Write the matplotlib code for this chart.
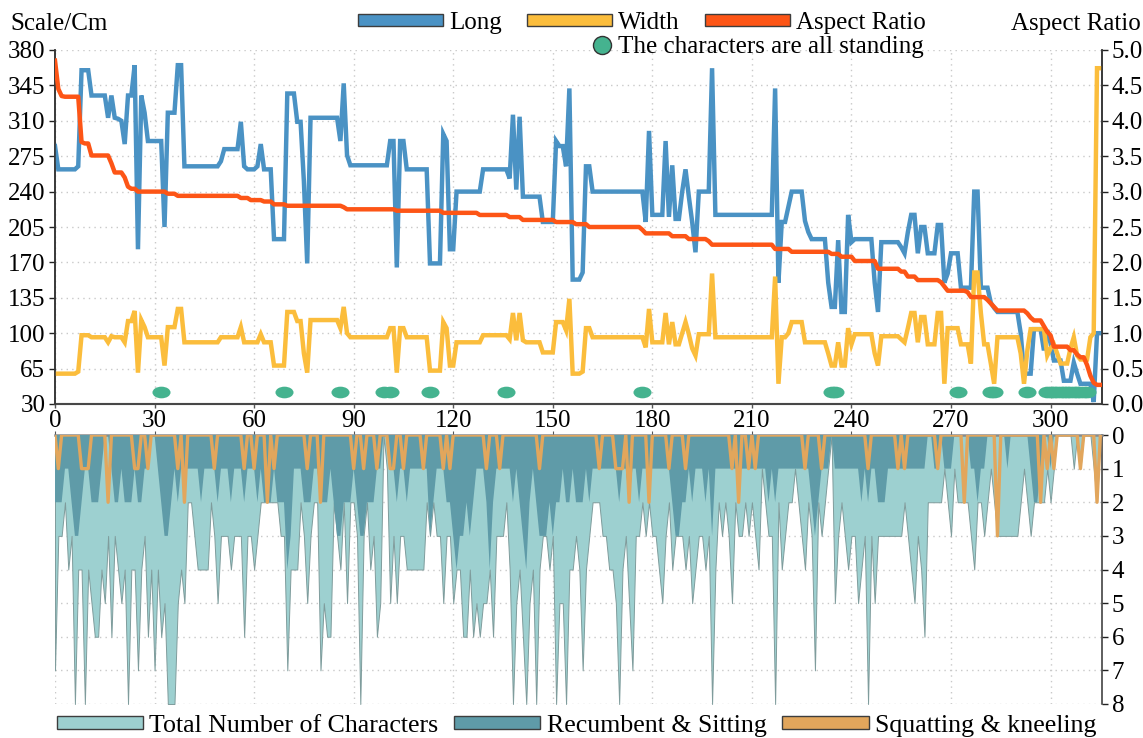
import matplotlib
matplotlib.use('Agg')
import matplotlib.pyplot as plt
from matplotlib.patches import Patch
from matplotlib.lines import Line2D
from matplotlib.path import Path
from matplotlib.transforms import Affine2D

# ---------------- data ----------------
long_cm = [
    285, 262, 262, 262, 262, 262, 262, 265, 360, 360,
    360, 335, 335, 335, 335, 335, 313, 335, 313, 312,
    310, 287, 335, 335, 365, 183, 335, 318, 290, 290,
    290, 290, 290, 205, 318, 318, 318, 365, 365, 265,
    265, 265, 265, 265, 265, 265, 265, 265, 265, 265,
    270, 282, 282, 282, 282, 282, 309, 265, 262, 262,
    262, 265, 287, 262, 262, 262, 193, 193, 193, 193,
    337, 337, 337, 309, 309, 250, 169, 313, 313, 313,
    313, 313, 313, 313, 313, 313, 290, 347, 276, 266,
    266, 266, 266, 266, 266, 266, 266, 266, 266, 266,
    266, 290, 290, 165, 290, 290, 262, 262, 262, 262,
    262, 262, 262, 169, 169, 169, 169, 297, 290, 183,
    183, 240, 240, 240, 240, 240, 240, 240, 240, 262,
    262, 262, 262, 262, 262, 262, 262, 253, 316, 242,
    314, 235, 235, 235, 235, 235, 235, 210, 210, 210,
    210, 290, 285, 285, 265, 342, 153, 153, 153, 160,
    265, 265, 240, 240, 240, 240, 240, 240, 240, 240,
    240, 240, 240, 240, 240, 240, 240, 240, 210, 300,
    217, 217, 217, 217, 290, 215, 266, 213, 213, 240,
    262, 235, 210, 180, 240, 240, 240, 240, 362, 217,
    217, 217, 217, 217, 217, 217, 217, 217, 217, 217,
    217, 217, 217, 217, 217, 217, 217, 342, 150, 210,
    210, 225, 240, 240, 240, 240, 211, 200, 193, 193,
    193, 193, 193, 150, 126, 126, 192, 121, 121, 217,
    190, 193, 193, 193, 193, 193, 193, 150, 121, 190,
    190, 190, 190, 190, 190, 185, 179, 200, 217, 217,
    179, 205, 205, 179, 179, 179, 207, 207, 150, 159,
    179, 179, 179, 145, 145, 145, 145, 240, 240, 145,
    145, 145, 130, 125, 121, 121, 121, 121, 121, 121,
    121, 100, 60, 60, 60, 104, 104, 104, 83, 103,
    90, 73, 73, 73, 53, 53, 53, 71, 60, 50,
    50, 50, 50, 32, 100, 100,
]

width_cm = [
    60, 60, 60, 60, 60, 60, 60, 62, 98, 98,
    98, 96, 96, 96, 96, 96, 91, 97, 96, 96,
    96, 91, 112, 112, 122, 61, 113, 106, 96, 96,
    96, 96, 96, 68, 106, 106, 106, 124, 124, 91,
    91, 91, 91, 91, 91, 91, 91, 91, 91, 91,
    96, 96, 96, 96, 96, 96, 106, 91, 91, 91,
    91, 91, 99, 91, 91, 91, 68, 68, 68, 68,
    121, 121, 121, 112, 112, 80, 61, 113, 113, 113,
    113, 113, 113, 113, 113, 113, 105, 126, 100, 96,
    96, 96, 96, 96, 96, 96, 96, 96, 96, 96,
    96, 105, 105, 61, 105, 105, 96, 96, 96, 96,
    96, 96, 96, 63, 63, 63, 63, 111, 105, 68,
    68, 91, 91, 91, 91, 91, 91, 91, 91, 98,
    98, 98, 98, 98, 98, 98, 98, 94, 120, 93,
    120, 93, 91, 91, 91, 91, 91, 81, 81, 81,
    81, 111, 111, 111, 103, 134, 60, 60, 60, 62,
    105, 105, 96, 96, 96, 96, 96, 96, 96, 96,
    96, 96, 96, 96, 96, 96, 96, 96, 86, 124,
    91, 91, 91, 91, 120, 89, 111, 89, 89, 100,
    111, 99, 85, 78, 99, 99, 99, 99, 159, 96,
    96, 96, 96, 96, 96, 96, 96, 96, 96, 96,
    96, 96, 96, 96, 96, 96, 96, 156, 50, 96,
    96, 100, 111, 111, 111, 111, 91, 91, 91, 91,
    91, 91, 91, 80, 68, 68, 91, 68, 68, 105,
    89, 99, 99, 99, 99, 99, 99, 80, 68, 97,
    97, 97, 97, 97, 97, 94, 91, 105, 120, 120,
    91, 116, 116, 89, 89, 89, 120, 120, 50, 105,
    105, 105, 105, 89, 89, 89, 70, 160, 160, 120,
    89, 89, 70, 50, 96, 96, 96, 96, 96, 96,
    96, 80, 50, 83, 104, 104, 104, 104, 104, 78,
    85, 89, 80, 70, 70, 70, 85, 96, 78, 74,
    74, 74, 96, 100, 362, 362,
]

aspect_ratio = [
    4.85, 4.45, 4.35, 4.34, 4.34, 4.34, 4.34, 4.34, 3.70, 3.68,
    3.68, 3.51, 3.51, 3.51, 3.51, 3.51, 3.51, 3.40, 3.27, 3.27,
    3.27, 3.20, 3.07, 3.04, 3.04, 3.00, 3.00, 3.00, 3.00, 3.00,
    3.00, 3.00, 3.00, 3.00, 2.97, 2.97, 2.97, 2.94, 2.94, 2.94,
    2.94, 2.94, 2.94, 2.94, 2.94, 2.94, 2.94, 2.94, 2.94, 2.94,
    2.94, 2.94, 2.94, 2.94, 2.94, 2.94, 2.91, 2.91, 2.91, 2.88,
    2.88, 2.88, 2.88, 2.86, 2.86, 2.86, 2.82, 2.82, 2.82, 2.82,
    2.80, 2.80, 2.80, 2.80, 2.80, 2.80, 2.80, 2.80, 2.80, 2.80,
    2.80, 2.80, 2.80, 2.80, 2.80, 2.80, 2.80, 2.78, 2.75, 2.75,
    2.75, 2.75, 2.75, 2.75, 2.75, 2.75, 2.75, 2.75, 2.75, 2.75,
    2.75, 2.75, 2.75, 2.73, 2.73, 2.73, 2.73, 2.73, 2.73, 2.73,
    2.73, 2.73, 2.73, 2.73, 2.73, 2.73, 2.73, 2.70, 2.70, 2.70,
    2.70, 2.70, 2.70, 2.70, 2.70, 2.70, 2.70, 2.70, 2.67, 2.67,
    2.67, 2.67, 2.67, 2.67, 2.67, 2.67, 2.67, 2.64, 2.64, 2.64,
    2.64, 2.60, 2.60, 2.60, 2.60, 2.60, 2.60, 2.60, 2.60, 2.60,
    2.60, 2.57, 2.57, 2.57, 2.57, 2.57, 2.57, 2.54, 2.54, 2.54,
    2.54, 2.50, 2.50, 2.50, 2.50, 2.50, 2.50, 2.50, 2.50, 2.50,
    2.50, 2.50, 2.50, 2.50, 2.50, 2.50, 2.50, 2.46, 2.41, 2.41,
    2.41, 2.41, 2.41, 2.41, 2.41, 2.41, 2.37, 2.37, 2.37, 2.37,
    2.37, 2.33, 2.33, 2.33, 2.33, 2.33, 2.33, 2.30, 2.25, 2.25,
    2.25, 2.25, 2.25, 2.25, 2.25, 2.25, 2.25, 2.25, 2.25, 2.25,
    2.25, 2.25, 2.25, 2.25, 2.25, 2.25, 2.25, 2.19, 2.19, 2.19,
    2.19, 2.19, 2.15, 2.15, 2.15, 2.15, 2.15, 2.15, 2.15, 2.15,
    2.15, 2.15, 2.15, 2.15, 2.12, 2.12, 2.12, 2.08, 2.08, 2.08,
    2.08, 2.02, 2.02, 2.02, 2.02, 2.02, 2.02, 2.02, 1.91, 1.91,
    1.91, 1.91, 1.91, 1.91, 1.91, 1.87, 1.87, 1.80, 1.80, 1.80,
    1.75, 1.75, 1.75, 1.75, 1.75, 1.75, 1.75, 1.72, 1.66, 1.60,
    1.60, 1.60, 1.60, 1.60, 1.60, 1.58, 1.51, 1.51, 1.51, 1.51,
    1.51, 1.47, 1.42, 1.37, 1.32, 1.32, 1.32, 1.32, 1.32, 1.32,
    1.32, 1.32, 1.32, 1.28, 1.22, 1.18, 1.18, 1.18, 1.10, 1.02,
    0.97, 0.81, 0.81, 0.81, 0.81, 0.81, 0.76, 0.76, 0.70, 0.66,
    0.66, 0.55, 0.40, 0.30, 0.27, 0.27,
]

standing_idx = [32, 69, 86, 99, 101, 113, 136, 177, 234, 235, 272, 282, 283,
                293, 299, 300, 301, 302, 303, 304, 305, 306, 307, 308, 309,
                310, 311]

total_chars = [
    7, 3, 3, 2, 4, 3, 8, 4, 4, 8,
    4, 5, 6, 6, 4, 5, 3, 6, 3, 4,
    5, 4, 8, 4, 4, 7, 4, 3, 6, 4,
    7, 4, 6, 5, 8, 8, 8, 5, 4, 5,
    2, 2, 3, 4, 4, 4, 4, 2, 3, 5,
    3, 3, 3, 4, 3, 3, 3, 6, 3, 3,
    4, 3, 2, 2, 2, 2, 2, 2, 3, 3,
    7, 4, 4, 4, 2, 3, 5, 3, 2, 2,
    7, 5, 6, 6, 2, 3, 4, 2, 5, 2,
    2, 3, 8, 3, 2, 4, 3, 6, 5, 0,
    1, 5, 3, 5, 3, 3, 4, 4, 4, 4,
    4, 4, 2, 3, 2, 3, 3, 5, 3, 3,
    5, 4, 4, 6, 6, 4, 6, 5, 6, 5,
    5, 4, 6, 3, 3, 3, 2, 4, 8, 5,
    4, 6, 8, 5, 4, 8, 4, 3, 3, 4,
    3, 8, 5, 5, 8, 4, 4, 3, 4, 7,
    4, 3, 2, 2, 2, 3, 3, 4, 4, 5,
    8, 4, 3, 5, 7, 3, 3, 2, 3, 2,
    3, 3, 4, 5, 3, 2, 4, 3, 3, 3,
    4, 3, 5, 4, 3, 3, 4, 3, 8, 4,
    2, 3, 2, 3, 5, 2, 3, 3, 2, 3,
    2, 3, 4, 1, 2, 3, 3, 8, 2, 4,
    3, 2, 2, 1, 2, 3, 4, 2, 3, 7,
    2, 3, 2, 1, 0, 5, 3, 2, 3, 4,
    3, 3, 5, 4, 3, 8, 3, 5, 3, 3,
    3, 3, 3, 3, 3, 3, 2, 3, 4, 5,
    3, 4, 6, 2, 2, 2, 2, 2, 1, 2,
    3, 1, 2, 2, 2, 2, 3, 4, 2, 2,
    3, 2, 1, 2, 3, 3, 3, 3, 3, 3,
    3, 2, 1, 2, 3, 2, 2, 2, 2, 1,
    2, 1, 0, 0, 0, 0, 0, 1, 0, 1,
    0, 0, 0, 1, 2, 0,
]

recumbent_sitting = [
    2, 2, 2, 1, 1, 2, 3, 3, 2, 1,
    1, 2, 2, 2, 1, 0, 0, 1, 2, 2,
    1, 2, 2, 2, 1, 2, 2, 1, 1, 0,
    0, 1, 2, 3, 3, 2, 1, 2, 1, 1,
    1, 1, 1, 1, 2, 1, 1, 1, 1, 2,
    1, 1, 1, 2, 1, 1, 1, 2, 1, 1,
    1, 2, 1, 2, 2, 2, 1, 2, 2, 2,
    4, 3, 1, 1, 1, 2, 2, 2, 1, 1,
    2, 2, 2, 1, 2, 3, 3, 2, 2, 2,
    1, 2, 3, 3, 2, 2, 2, 1, 1, 0,
    0, 1, 1, 2, 1, 1, 2, 1, 1, 1,
    1, 1, 1, 3, 2, 1, 1, 1, 2, 2,
    3, 4, 3, 3, 2, 3, 2, 1, 1, 1,
    2, 4, 2, 1, 1, 1, 1, 1, 2, 1,
    2, 3, 4, 2, 1, 2, 3, 3, 3, 2,
    3, 2, 2, 1, 2, 2, 1, 2, 2, 2,
    1, 2, 1, 1, 1, 1, 1, 1, 1, 1,
    2, 1, 1, 2, 1, 1, 2, 1, 1, 1,
    1, 1, 1, 1, 1, 1, 2, 3, 3, 2,
    2, 1, 2, 1, 1, 1, 2, 1, 3, 1,
    1, 1, 1, 1, 1, 1, 1, 1, 1, 1,
    1, 1, 1, 1, 1, 2, 1, 2, 1, 1,
    1, 1, 1, 1, 1, 1, 1, 1, 2, 3,
    2, 1, 1, 1, 0, 1, 1, 1, 1, 1,
    1, 1, 1, 2, 1, 2, 1, 1, 2, 2,
    2, 1, 1, 1, 1, 1, 1, 1, 1, 1,
    1, 1, 1, 0, 0, 1, 1, 0, 1, 1,
    1, 0, 0, 0, 0, 0, 1, 1, 2, 1,
    1, 0, 0, 0, 0, 0, 0, 1, 0, 0,
    0, 0, 0, 0, 1, 2, 2, 1, 0, 0,
    1, 0, 0, 0, 0, 0, 0, 0, 0, 0,
    0, 0, 0, 0, 0, 0,
]

squatting_kneeling = [
    0, 1, 0, 0, 0, 0, 0, 0, 1, 1,
    1, 0, 0, 0, 0, 0, 2, 0, 0, 0,
    0, 0, 0, 0, 1, 1, 0, 0, 1, 0,
    0, 0, 0, 0, 0, 0, 0, 1, 0, 2,
    0, 0, 0, 0, 0, 0, 0, 0, 1, 0,
    0, 0, 0, 0, 0, 0, 0, 1, 0, 0,
    1, 0, 0, 0, 2, 0, 1, 0, 0, 0,
    0, 0, 0, 0, 0, 0, 1, 0, 0, 0,
    2, 0, 0, 0, 0, 0, 0, 0, 0, 0,
    1, 0, 0, 1, 0, 0, 0, 1, 0, 0,
    0, 1, 1, 0, 0, 1, 0, 0, 0, 0,
    0, 1, 0, 0, 0, 0, 0, 1, 0, 1,
    0, 0, 0, 0, 0, 0, 0, 0, 0, 0,
    1, 0, 0, 0, 1, 0, 0, 0, 0, 0,
    0, 0, 0, 0, 0, 0, 1, 0, 0, 0,
    0, 0, 0, 0, 0, 0, 0, 0, 0, 0,
    0, 0, 0, 0, 1, 0, 0, 0, 0, 1,
    1, 1, 0, 2, 0, 0, 0, 0, 0, 2,
    0, 0, 0, 0, 0, 1, 0, 0, 0, 0,
    1, 0, 0, 0, 0, 0, 0, 0, 0, 0,
    0, 0, 0, 0, 1, 0, 2, 0, 0, 1,
    0, 1, 0, 0, 0, 0, 0, 0, 0, 0,
    0, 0, 0, 0, 0, 0, 1, 0, 0, 0,
    0, 1, 0, 0, 0, 0, 0, 0, 0, 0,
    0, 0, 0, 0, 0, 1, 0, 0, 0, 0,
    0, 0, 0, 0, 1, 0, 1, 0, 0, 0,
    0, 0, 0, 0, 0, 0, 1, 0, 0, 0,
    0, 0, 0, 0, 2, 0, 0, 0, 0, 0,
    0, 0, 0, 0, 3, 0, 0, 0, 0, 0,
    0, 0, 0, 0, 0, 0, 0, 2, 0, 1,
    0, 1, 0, 0, 0, 0, 0, 0, 0, 1,
    0, 0, 0, 0, 2, 0,
]

x_ticks = [0, 30, 60, 90, 120, 150, 180, 210, 240, 270, 300]
left_ticks = [30, 65, 100, 135, 170, 205, 240, 275, 310, 345, 380]
right_ticks = [0.0, 0.5, 1.0, 1.5, 2.0, 2.5, 3.0, 3.5, 4.0, 4.5, 5.0]
count_ticks = [0, 1, 2, 3, 4, 5, 6, 7, 8]

# ---------------- style ----------------
plt.rcParams['font.family'] = ['Liberation Serif', 'DejaVu Serif']
plt.rcParams['font.size'] = 18

C_LONG = '#4a92c4'
C_WIDTH = '#fbbd3c'
C_AR = '#fd5516'
C_STAND = '#45b38f'
C_TOTAL = '#9dd0d0'
C_REC = '#5f9ba8'
C_SQ = '#e2a65c'
GRID = dict(color='#c9c9c9', linestyle=(0, (1, 3)), linewidth=1.0)

W, H = 1143, 738
fig = plt.figure(figsize=(W / 100, H / 100), dpi=100)

def rect(l, t, r, b):
    return [l / W, 1 - b / H, (r - l) / W, (b - t) / H]

ax = fig.add_axes(rect(55, 50, 1102, 404))
ax2 = ax.twinx()
axb = fig.add_axes(rect(55, 435, 1102, 704))

x = list(range(len(long_cm)))

# ---------------- top panel ----------------
ax.plot(x, long_cm, color=C_LONG, lw=3.2, solid_joinstyle='miter', zorder=3)
ax.plot(x, width_cm, color=C_WIDTH, lw=3.2, solid_joinstyle='miter', zorder=3)
ellipse = Path.unit_circle().transformed(Affine2D().scale(1.55, 1.0))
ax.plot(standing_idx, [42] * len(standing_idx), linestyle='none',
        marker=ellipse, markersize=13, color=C_STAND, markeredgewidth=0,
        zorder=4)
ax2.plot(x[:len(aspect_ratio)], aspect_ratio, color=C_AR, lw=3.2, zorder=5)

ax.set_xlim(0, 315.5)
ax.set_ylim(30, 380)
ax2.set_ylim(0, 5)
ax.set_xticks(x_ticks)
ax.set_yticks(left_ticks)
ax2.set_yticks(right_ticks)
ax2.set_yticklabels([f'{v:.1f}' for v in right_ticks])
ax.grid(True, **GRID)
ax.set_axisbelow(True)
for a in (ax, ax2):
    a.spines['top'].set_visible(False)
    for s in ('left', 'right', 'bottom'):
        a.spines[s].set_color('#333333')
        a.spines[s].set_linewidth(1.1)
ax.spines['bottom'].set_color('#8a8a8a')
ax.spines['bottom'].set_linewidth(1.6)
ax.tick_params(axis='y', length=4, width=1, pad=3, colors='#222222', labelcolor='black')
ax.tick_params(axis='x', length=3, width=1, pad=1, colors='#555555', labelcolor='black')
ax2.tick_params(axis='y', length=4, width=1, pad=3, colors='#222222', labelcolor='black')
for lab in ax.get_yticklabels() + ax.get_xticklabels() + ax2.get_yticklabels():
    lab.set_fontsize(18)

# ---------------- bottom panel ----------------
axb.fill_between(x, 0, total_chars, facecolor=C_TOTAL, edgecolor='#7f9c9c',
                 linewidth=0.7, zorder=2)
axb.fill_between(x, 0, recumbent_sitting, facecolor=C_REC, edgecolor='none',
                 linewidth=0, zorder=3)
axb.plot(x, squatting_kneeling, color=C_SQ, lw=2.4, zorder=4)
axb.set_xlim(0, 315.5)
axb.set_ylim(8, 0)
axb.set_xticks(x_ticks)
axb.set_yticks(count_ticks)
axb.yaxis.tick_right()
axb.xaxis.tick_top()
axb.tick_params(axis='x', labeltop=False, labelbottom=False, length=3,
                colors='#555555')
axb.tick_params(axis='y', length=4, width=1, pad=3, colors='#222222',
                labelcolor='black', labelsize=18)
axb.grid(True, **GRID)
axb.set_axisbelow(True)
axb.spines['left'].set_visible(False)
axb.spines['bottom'].set_visible(False)
axb.spines['top'].set_color('#8a8a8a')
axb.spines['top'].set_linewidth(1.8)
axb.spines['right'].set_color('#333333')
axb.spines['right'].set_linewidth(1.1)

# ---------------- titles & legends ----------------
fig.text(10 / W, 1 - 24 / H, 'Scale/Cm', ha='left', va='center', fontsize=18)
fig.text(1141 / W, 1 - 24 / H, 'Aspect Ratio', ha='right', va='center', fontsize=18)

edge = '#3d3d3d'
top_handles = [Patch(facecolor=C_LONG, edgecolor=edge, lw=1.0, label='Long'),
               Patch(facecolor=C_WIDTH, edgecolor=edge, lw=1.0, label='Width'),
               Patch(facecolor=C_AR, edgecolor=edge, lw=1.0, label='Aspect Ratio')]
leg1 = fig.legend(handles=top_handles, loc='center left',
                  bbox_to_anchor=(358 / W, 1 - 23 / H), ncol=3, frameon=False,
                  borderaxespad=0, borderpad=0, handlelength=3.4,
                  handleheight=0.4, handletextpad=0.25, columnspacing=1.0,
                  fontsize=18)
stand_handle = [Line2D([], [], linestyle='none', marker='o', markersize=13,
                       markerfacecolor=C_STAND, markeredgecolor='#333333',
                       markeredgewidth=1.0,
                       label='The characters are all standing')]
leg2 = fig.legend(handles=stand_handle, loc='center left',
                  bbox_to_anchor=(589 / W, 1 - 47 / H), frameon=False,
                  borderaxespad=0, borderpad=0, handlelength=1.0,
                  handletextpad=0.15, fontsize=18)
bottom_handles = [Patch(facecolor=C_TOTAL, edgecolor=edge, lw=1.0,
                        label='Total Number of Characters'),
                  Patch(facecolor=C_REC, edgecolor=edge, lw=1.0,
                        label='Recumbent & Sitting'),
                  Patch(facecolor=C_SQ, edgecolor=edge, lw=1.0,
                        label='Squatting & kneeling')]
leg3 = fig.legend(handles=bottom_handles, loc='center left',
                  bbox_to_anchor=(57 / W, 1 - 726 / H), ncol=3, frameon=False,
                  borderaxespad=0, borderpad=0, handlelength=3.33,
                  handleheight=0.39, handletextpad=0.24, columnspacing=0.62,
                  fontsize=18.6)

fig.savefig('out.png', dpi=100)
